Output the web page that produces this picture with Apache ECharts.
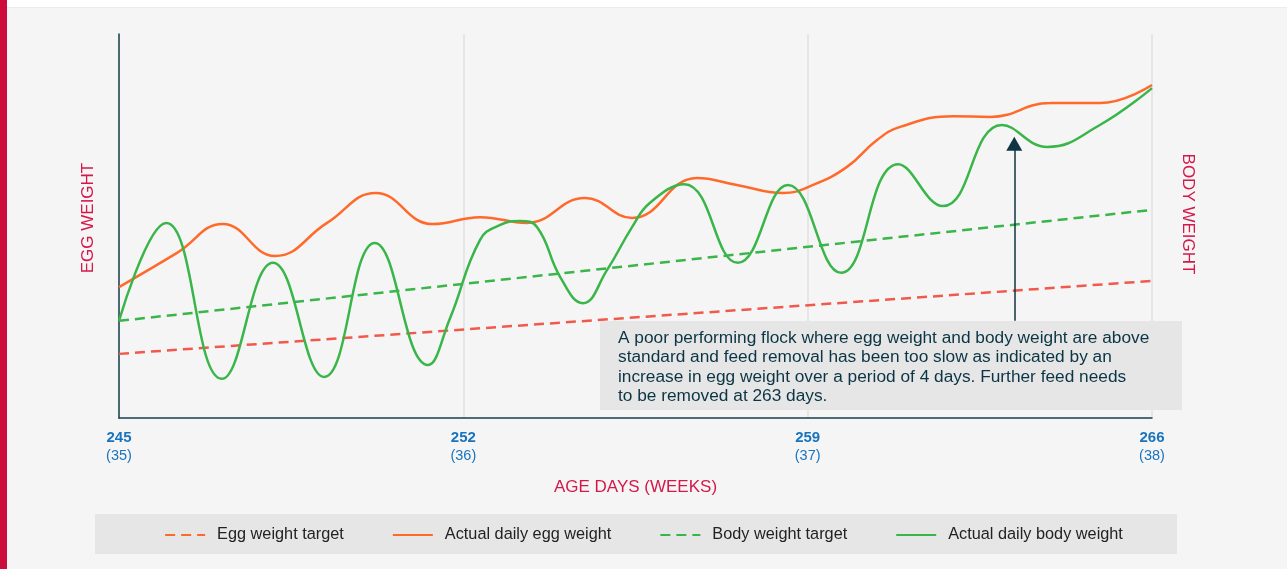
<!DOCTYPE html>
<html>
<head>
<meta charset="utf-8">
<script src="https://cdn.jsdelivr.net/npm/echarts@6/dist/echarts.min.js"></script>
<style>
  html, body { margin: 0; padding: 0; background: #f5f5f5; }
  #chart { width: 1287px; height: 569px; }
</style>
</head>
<body>
<div id="chart"></div>
<script>
// ---- data ----
var xTickDays = [245, 252, 259, 266];
var xTickWeeks = ['(35)', '(36)', '(37)', '(38)'];

var eggTargetDays = [245, 266];
var eggTargetValues = [16.7, 35.7];

var bodyTargetDays = [245, 266];
var bodyTargetValues = [25.3, 54.2];

var eggActualDays = [245.00, 246.18, 247.11, 248.17, 249.23, 250.22, 251.38, 252.34, 253.29, 254.47, 255.43, 256.75, 257.56, 258.50, 259.11, 259.80, 260.41, 260.88, 261.95, 262.71, 263.93, 264.94, 266.00];
var eggActualValues = [34.1, 43.0, 50.5, 42.2, 50.8, 58.6, 50.5, 52.3, 50.8, 57.3, 52.1, 62.5, 60.7, 58.6, 60.7, 65.4, 72.4, 75.8, 78.6, 78.4, 82.0, 82.0, 86.7];

var bodyActualDays = [245.00, 245.96, 247.09, 248.13, 249.17, 250.20, 251.28, 251.73, 252.34, 252.75, 253.15, 253.50, 253.97, 254.43, 254.92, 255.43, 255.79, 256.49, 257.58, 258.60, 259.68, 260.84, 261.75, 262.95, 263.87, 264.94, 266.00];
var bodyActualValues = [25.3, 50.8, 10.2, 40.4, 10.7, 45.6, 13.8, 26.0, 46.4, 50.3, 51.3, 49.7, 36.7, 29.9, 38.5, 49.7, 56.0, 60.9, 40.4, 60.7, 37.8, 66.1, 55.2, 76.3, 70.6, 76.3, 85.9];

var arrowDay = 263.2;
var arrowFrom = 25.3;
var arrowTo = 71.4;

var seriesNames = ['Egg weight target', 'Actual daily egg weight', 'Body weight target', 'Actual daily body weight'];

var annotationLines = [
  'A poor performing flock where egg weight and body weight are above',
  'standard and feed removal has been too slow as indicated by an',
  'increase in egg weight over a period of 4 days. Further feed needs',
  'to be removed at 263 days.'
];

function pairs(xs, ys) {
  return xs.map(function (x, i) { return [x, ys[i]]; });
}

// ---- chart ----
var FONT = "'Liberation Sans', Arial, Helvetica, sans-serif";
var RED_TXT = '#d4194a';
var ORANGE = '#ff6a2b';
var GREEN = '#3ab54a';
var RED_DASH = '#f0594b';
var DARK = '#173f4d';

var chart = echarts.init(document.getElementById('chart'), null, { renderer: 'canvas' });

var option = {
  animation: false,
  backgroundColor: '#f5f5f5',
  textStyle: { fontFamily: FONT },
  grid: { left: 119, right: 135, top: 34, bottom: 151, containLabel: false },
  xAxis: {
    type: 'value',
    min: 245, max: 266, interval: 7,
    name: 'AGE DAYS (WEEKS)',
    nameLocation: 'middle',
    nameGap: 61,
    nameTextStyle: { color: RED_TXT, fontSize: 17, fontFamily: FONT },
    axisLine: { show: true, onZero: false, lineStyle: { color: DARK, width: 1.5 } },
    axisTick: { show: false },
    splitLine: { show: true, lineStyle: { color: '#e1e1e1', width: 1.5 } },
    axisLabel: {
      margin: 11,
      formatter: function (v) {
        var i = xTickDays.indexOf(v);
        return '{a|' + v + '}\n{b|' + (i >= 0 ? xTickWeeks[i] : '') + '}';
      },
      rich: {
        a: { color: '#1a74bd', fontSize: 15, fontWeight: 'bold', fontFamily: FONT, lineHeight: 18 },
        b: { color: '#1a74bd', fontSize: 14.5, fontFamily: FONT, lineHeight: 18 }
      }
    }
  },
  yAxis: [{
    type: 'value',
    min: 0, max: 100,
    name: 'EGG WEIGHT',
    nameLocation: 'middle',
    nameGap: 22,
    nameTextStyle: { color: RED_TXT, fontSize: 17, fontFamily: FONT, padding: [0, 0, 0, 16] },
    axisLine: { show: true, lineStyle: { color: DARK, width: 1.5 } },
    axisTick: { show: false },
    axisLabel: { show: false },
    splitLine: { show: false }
  }, {
    type: 'value',
    min: 0, max: 100,
    position: 'right',
    name: 'BODY WEIGHT',
    nameLocation: 'middle',
    nameRotate: -90,
    nameGap: 27,
    nameTextStyle: { color: RED_TXT, fontSize: 17, fontFamily: FONT, padding: [0, 24, 0, 0] },
    axisLine: { show: false },
    axisTick: { show: false },
    axisLabel: { show: false },
    splitLine: { show: false }
  }],
  legend: {
    left: 'center',
    top: 522,
    itemWidth: 40,
    itemHeight: 14,
    itemGap: 48,
    itemStyle: { opacity: 0 },
    textStyle: { color: '#222', fontSize: 16.3, fontFamily: FONT, padding: [0, 0, 0, 7] },
    data: [
      { name: seriesNames[0], lineStyle: { color: ORANGE } },
      { name: seriesNames[1] },
      { name: seriesNames[2] },
      { name: seriesNames[3] }
    ]
  },
  series: [
    {
      name: seriesNames[0], type: 'line', symbol: 'none', z: 2,
      data: pairs(eggTargetDays, eggTargetValues),
      itemStyle: { color: RED_DASH },
      lineStyle: { color: RED_DASH, width: 2.5, type: [10, 6] }
    },
    {
      name: seriesNames[1], type: 'line', symbol: 'none', smooth: 0.45, z: 3,
      data: pairs(eggActualDays, eggActualValues),
      itemStyle: { color: ORANGE },
      lineStyle: { color: ORANGE, width: 2.5 }
    },
    {
      name: seriesNames[2], type: 'line', symbol: 'none', z: 2,
      data: pairs(bodyTargetDays, bodyTargetValues),
      itemStyle: { color: GREEN },
      lineStyle: { color: GREEN, width: 2.5, type: [10, 6] }
    },
    {
      name: seriesNames[3], type: 'line', symbol: 'none', smooth: 0.45, z: 4,
      data: pairs(bodyActualDays, bodyActualValues),
      itemStyle: { color: GREEN },
      lineStyle: { color: GREEN, width: 2.5 },
      markLine: {
        silent: true,
        symbol: ['none', 'triangle'],
        symbolSize: [16, 14],
        label: { show: false },
        lineStyle: { color: '#0f3443', width: 1.5, type: 'solid' },
        data: [[{ coord: [arrowDay, arrowFrom] }, { coord: [arrowDay, arrowTo] }]]
      }
    }
  ],
  graphic: [
    { type: 'rect', z: -10, shape: { x: 0, y: 0, width: 1287, height: 7 }, style: { fill: '#ffffff' } },
    { type: 'rect', z: -10, shape: { x: 0, y: 7, width: 1287, height: 1 }, style: { fill: '#e8edf3' } },
    { type: 'rect', z: 100, shape: { x: 0, y: 0, width: 7, height: 569 }, style: { fill: '#cc0d3c' } },
    { type: 'rect', z: -10, shape: { x: 95, y: 514, width: 1082, height: 40 }, style: { fill: '#e6e6e6' } },
    { type: 'rect', z: 100, shape: { x: 600, y: 321, width: 582, height: 89 }, style: { fill: '#e6e6e6' } },
    {
      type: 'text', z: 101, x: 618, y: 328,
      style: {
        text: annotationLines.join('\n'),
        fill: '#0b3544',
        font: '17.3px ' + FONT,
        lineHeight: 19.5
      }
    }
  ]
};

chart.setOption(option);
</script>
</body>
</html>
